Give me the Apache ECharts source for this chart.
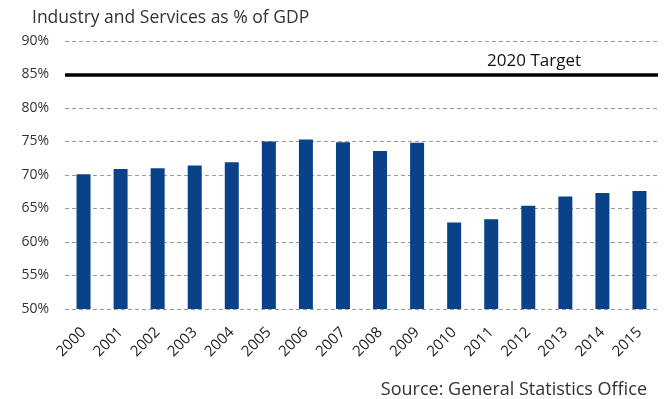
<!DOCTYPE html>
<html><head><meta charset="utf-8">
<script src="https://cdn.jsdelivr.net/npm/echarts@6/dist/echarts.min.js"></script>
<style>html,body{margin:0;padding:0;background:#fff}#c{width:665px;height:399px}</style>
</head><body><div id="c"></div>
<script>
const categories = ['2000','2001','2002','2003','2004','2005','2006','2007','2008','2009','2010','2011','2012','2013','2014','2015'];
const shareValues = [70.1, 70.9, 71.0, 71.4, 71.9, 75.0, 75.3, 74.9, 73.6, 74.8, 62.9, 63.4, 65.4, 66.8, 67.3, 67.6];
const targetValue = 85;
const targetLabel = '2020 Target';
const yTicks = {min: 50, max: 90, interval: 5};
const font = '"Open Sans", "Noto Sans", sans-serif';

const chart = echarts.init(document.getElementById('c'));
chart.setOption({
  animation: false,
  title: {
    text: 'Industry and Services as % of GDP',
    left: 27, top: 4,
    textStyle: {fontFamily: font, fontSize: 17.5, fontWeight: 'normal', color: '#333'}
  },
  graphic: [{
    type: 'text', right: 18, bottom: 0,
    style: {text: 'Source: General Statistics Office', font: '18px ' + font, fill: '#333'}
  }],
  grid: {left: 65, right: 7, top: 41, bottom: 90},
  xAxis: {
    type: 'category', data: categories,
    axisLine: {show: false}, axisTick: {show: false},
    axisLabel: {rotate: 45, fontFamily: font, fontSize: 15, color: '#222', margin: 21}
  },
  yAxis: {
    type: 'value', min: yTicks.min, max: yTicks.max, interval: yTicks.interval,
    axisLine: {show: false}, axisTick: {show: false},
    axisLabel: {formatter: '{value}%', fontFamily: font, fontSize: 14, color: '#333', margin: 16},
    splitLine: {lineStyle: {type: [4, 3], color: '#999', width: 1}}
  },
  series: [{
    type: 'bar', data: shareValues, barWidth: 14,
    itemStyle: {color: '#0a4289'},
    markLine: {
      silent: true, symbol: 'none',
      lineStyle: {color: '#000', width: 3.5, type: 'solid'},
      label: {
        show: true, position: 'insideEndTop', formatter: targetLabel,
        fontFamily: font, fontSize: 17, color: '#111', padding: [0, 72, 0, 0]
      },
      data: [{yAxis: targetValue}]
    }
  }]
});
</script></body></html>
